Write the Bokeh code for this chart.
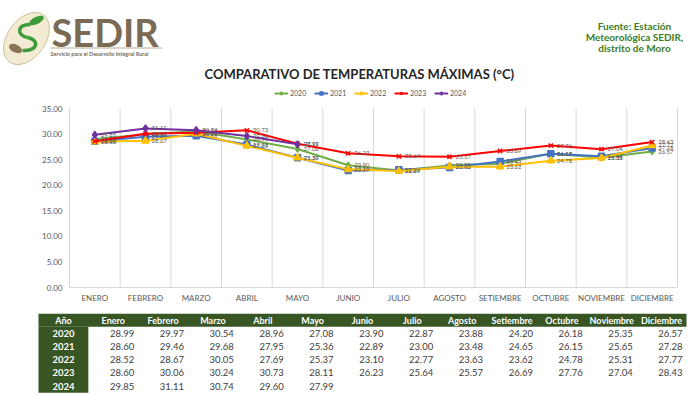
from bokeh.plotting import figure
from bokeh.models import Range1d, Label, Legend, LegendItem
from bokeh.layouts import column
from bokeh.embed import file_html
from bokeh.resources import INLINE
from bokeh.core.properties import value

months = ["Enero", "Febrero", "Marzo", "Abril", "Mayo", "Junio", "Julio",
          "Agosto", "Setiembre", "Octubre", "Noviembre", "Diciembre"]
month_ticks = ["ENERO", "FEBRERO", "MARZO", "ABRIL", "MAYO", "JUNIO", "JULIO",
               "AGOSTO", "SETIEMBRE", "OCTUBRE", "NOVIEMBRE", "DICIEMBRE"]
years = ["2020", "2021", "2022", "2023", "2024"]
t2020 = [28.99, 29.97, 30.54, 28.96, 27.08, 23.90, 22.87, 23.88, 24.20, 26.18, 25.35, 26.57]
t2021 = [28.60, 29.46, 29.68, 27.95, 25.36, 22.89, 23.00, 23.48, 24.65, 26.15, 25.65, 27.28]
t2022 = [28.52, 28.67, 30.05, 27.69, 25.37, 23.10, 22.77, 23.63, 23.62, 24.78, 25.31, 27.77]
t2023 = [28.60, 30.06, 30.24, 30.73, 28.11, 26.23, 25.64, 25.57, 26.69, 27.76, 27.04, 28.43]
t2024 = [29.85, 31.11, 30.74, 29.60, 27.99]
y_ticks = [0, 5, 10, 15, 20, 25, 30, 35]

series = [t2020, t2021, t2022, t2023, t2024]
colors = ["#70AD47", "#4472C4", "#FFC000", "#FF0000", "#7030A0"]
markers = ["diamond", "square", "triangle", "x", "diamond"]
msizes = [6, 6, 7, 6, 7]

W = 700
FONT = "Lato"
GRID = "#D9D9D9"
TXT = "#595959"

# ---------------- header (pixel-like data coords) ----------------
HH = 66
hdr = figure(width=W, height=HH, x_range=Range1d(0, W), y_range=Range1d(HH, 0),
             x_axis_type=None, y_axis_type=None, output_backend="svg",
             toolbar_location=None, min_border=0, outline_line_color=None)
hdr.grid.visible = False
hdr.ellipse(x=26, y=38, width=58, height=38, angle=0.95, fill_color="#F3EBD3",
            line_color="#CDBF93", line_width=1)
hdr.bezier(x0=30, y0=24, x1=27, y1=37, cx0=16, cy0=24, cx1=16, cy1=35,
           line_color="#3E9B3A", line_width=3.5)
hdr.bezier(x0=27, y0=37, x1=22, y1=50, cx0=39, cy0=39, cx1=38, cy1=51,
           line_color="#3E9B3A", line_width=3.5)
hdr.ellipse(x=36, y=20, width=16, height=7, angle=0.45, fill_color="#3E9B3A",
            line_color=None)
hdr.ellipse(x=15, y=48, width=14, height=8, angle=-0.45, fill_color="#8B7355",
            line_color=None)
hdr.text(x=[51], y=[31.5], text=["SEDIR"], text_font=value(FONT), text_font_style="bold",
         text_font_size="38px", text_color="#7B6B54", text_baseline="middle")
hdr.segment(x0=50, y0=47.5, x1=162, y1=47.5, line_color="#B9AC92", line_width=1)
hdr.text(x=[50], y=[53.5], text=["Servicio para el Desarrollo Integral Rural"],
         text_font=value(FONT), text_font_style="bold", text_font_size="5.5px",
         text_color="#7B6B54", text_baseline="middle")
hdr.text(x=[634, 634, 634], y=[25.5, 36.5, 47.5],
         text=["Fuente: Estación", "Meteorológica SEDIR,", "distrito de Moro"],
         text_font=value(FONT), text_font_style="bold", text_font_size="10px",
         text_color="#3B7D23", text_align="center", text_baseline="middle")

# ---------------- chart ----------------
CH = 247
left_px, right_px, top_px, bot_px = 69, 23, 42, 26
cat_w = (W - left_px - right_px) / len(months)
ypp = (y_ticks[-1] - y_ticks[0]) / (CH - top_px - bot_px)
p = figure(width=W, height=CH,
           x_range=Range1d(-0.5 - left_px / cat_w, len(months) - 0.5 + right_px / cat_w),
           y_range=Range1d(y_ticks[0] - bot_px * ypp, y_ticks[-1] + top_px * ypp),
           x_axis_type=None, y_axis_type=None, output_backend="svg",
           toolbar_location=None, min_border=0, outline_line_color=None)
p.grid.visible = False

bounds = [i - 0.5 for i in range(len(months) + 1)]
p.segment(x0=bounds, y0=y_ticks[0], x1=bounds, y1=y_ticks[-1], line_color=GRID, line_width=1)
p.segment(x0=bounds[0], y0=y_ticks[0], x1=bounds[-1], y1=y_ticks[0], line_color=GRID, line_width=1)
p.text(x=[bounds[0]] * len(y_ticks), y=y_ticks, text=["%.2f" % v for v in y_ticks],
       x_offset=-7, text_font=value(FONT), text_font_size="8px", text_color=TXT,
       text_align="right", text_baseline="middle")
p.text(x=list(range(len(months))), y=[y_ticks[0]] * len(months), text=month_ticks,
       y_offset=10, text_font=value(FONT), text_font_size="8px", text_color=TXT,
       text_align="center", text_baseline="middle")

items = []
for yr, vals, c, mk, ms in zip(years, series, colors, markers, msizes):
    xs = list(range(len(vals)))
    l = p.line(xs, vals, line_color=c, line_width=2)
    s = p.scatter(xs, vals, marker=mk, size=ms, fill_color=c, line_color=c, line_width=1.5)
    p.text(xs, vals, text=["%.2f" % v for v in vals], x_offset=6,
           text_font=value(FONT), text_font_size="6px", text_color=TXT,
           text_baseline="middle")
    items.append(LegendItem(label=yr, renderers=[l, s]))

legend = Legend(items=items, orientation="horizontal", location=(274, CH - 31),
                border_line_color=None, background_fill_alpha=0, padding=0, margin=0,
                spacing=4, glyph_width=14, glyph_height=8, label_standoff=2,
                label_height=8, label_text_font=FONT, label_text_font_size="7px",
                label_text_color=TXT)
p.add_layout(legend)
p.add_layout(Label(x=359, y=CH - 7, x_units="screen", y_units="screen",
                   text="COMPARATIVO DE TEMPERATURAS MÁXIMAS (°C)", text_align="center",
                   text_baseline="middle", text_font=FONT, text_font_style="bold",
                   text_font_size="13px", text_color="#262626"))

# ---------------- table ----------------
TH = 82
row_px = 13.2
tl_px, tr_px = 38, 14
col_w = (W - tl_px - tr_px) / (len(months) + 1)
t = figure(width=W, height=TH,
           x_range=Range1d(-1 - tl_px / col_w, len(months) + tr_px / col_w),
           y_range=Range1d(len(years) + (TH - row_px * (len(years) + 1)) / row_px, -1),
           x_axis_type=None, y_axis_type=None, output_backend="svg",
           toolbar_location=None, min_border=0, outline_line_color=None)
t.grid.visible = False
t.quad(left=-1, right=len(months), top=-1, bottom=0, fill_color="#375623", line_color=None)
t.quad(left=-1, right=0, top=0, bottom=len(years), fill_color="#375623", line_color=None)
t.text(x=[-0.5] + [i + 0.5 for i in range(len(months))], y=[-0.5] * (len(months) + 1),
       text=["Año"] + months, text_font=value(FONT), text_font_style="bold",
       text_font_size="9px", text_color="white", text_align="center",
       text_baseline="middle")
t.text(x=[-0.5] * len(years), y=[r + 0.5 for r in range(len(years))], text=years,
       text_font=value(FONT), text_font_style="bold", text_font_size="9.5px",
       text_color="white", text_align="center", text_baseline="middle")
tx, ty, tt = [], [], []
for r, vals in enumerate(series):
    for c, v in enumerate(vals):
        tx.append(c + 1)
        ty.append(r + 0.5)
        tt.append("%.2f" % v)
t.text(x=tx, y=ty, text=tt, x_offset=-4, text_font=value(FONT), text_font_size="9.5px",
       text_color="#404040", text_align="right", text_baseline="middle")

layout = column(hdr, p, t, spacing=0)
open("out.html", "w").write(file_html(layout, INLINE))
